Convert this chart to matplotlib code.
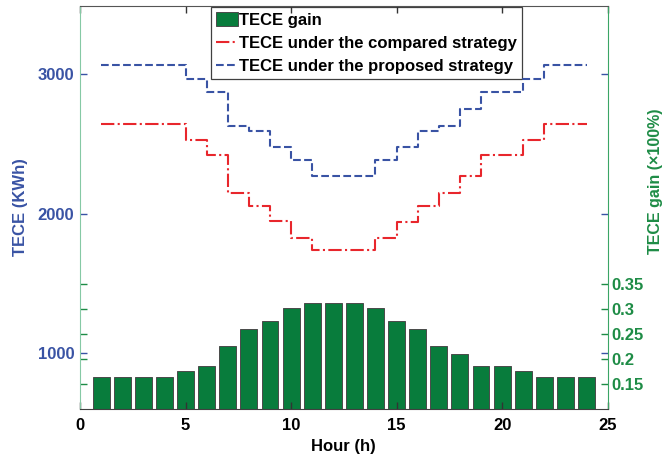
import matplotlib
matplotlib.use("Agg")
import matplotlib.pyplot as plt
import numpy as np


# 数据：24小时的TECE及增益
hours = np.arange(1, 25)
tece_proposed = [3070, 3070, 3070, 3070, 2965, 2870, 2630, 2595, 2480, 2385, 2270, 2270,
                 2270, 2385, 2480, 2595, 2630, 2755, 2870, 2870, 2965, 3070, 3070, 3070]
tece_compared = [2645, 2645, 2645, 2645, 2530, 2420, 2150, 2055, 1950, 1830, 1740, 1740,
                 1740, 1830, 1945, 2055, 2150, 2270, 2420, 2420, 2530, 2645, 2645, 2645]
tece_gain = [0.163, 0.163, 0.163, 0.163, 0.176, 0.185, 0.225, 0.259, 0.276, 0.301, 0.311, 0.311,
             0.311, 0.301, 0.276, 0.259, 0.225, 0.210, 0.185, 0.185, 0.176, 0.163, 0.163, 0.163]

left_ticks = [1000, 2000, 3000]
right_ticks = [0.15, 0.2, 0.25, 0.3, 0.35]
x_ticks = [0, 5, 10, 15, 20, 25]

# 颜色
c_blue = "#3953a4"
c_red = "#e8262c"
c_green = "#1e8c46"
c_bar = "#087c3c"


def draw():
	plt.rcParams['font.family'] = ['Liberation Sans', 'DejaVu Sans']
	plt.rcParams['font.weight'] = 'bold'
	plt.rcParams['font.size'] = 12

	fig = plt.figure(figsize=(6.67, 4.57), dpi=100)
	ax1 = fig.add_axes([0.12, 0.106, 0.791, 0.881])
	ax2 = ax1.twinx()
	# 左轴放在上层，刻度压在图例之上
	ax1.set_zorder(ax2.get_zorder() + 1)
	ax1.patch.set_visible(False)

	# 左轴：TECE阶梯线
	l_cmp, = ax1.step(hours, tece_compared, where='post', color=c_red, ls='-.', lw=1.5,
	                  label='TECE under the compared strategy')
	l_pro, = ax1.step(hours, tece_proposed, where='post', color=c_blue, ls='--', lw=1.5,
	                  label='TECE under the proposed strategy')
	ax1.set_xlim(0, 25)
	ax1.set_ylim(605, 3490)
	ax1.set_xticks(x_ticks)
	ax1.set_yticks(left_ticks)
	ax1.tick_params(axis='y', direction='in', left=True, right=True, length=5, width=1,
	                colors=c_blue, pad=4)
	ax1.tick_params(axis='x', direction='in', bottom=True, top=True, length=5, width=1,
	                colors='#333333', labelcolor='black', pad=7)
	ax1.set_xlabel('Hour (h)', fontweight='bold', labelpad=4)
	ax1.set_ylabel('TECE (KWh)', color=c_blue, fontweight='bold')
	ax1.yaxis.set_label_coords(-0.098, 0.5)
	ax1.spines['left'].set_color('#86c9a5')
	ax1.spines['right'].set_color('#3aa565')
	ax1.spines['top'].set_color('#555555')
	ax1.spines['bottom'].set_color('#404040')

	# 右轴：增益柱状图
	bars = ax2.bar(hours, tece_gain, width=0.8, color=c_bar, edgecolor='#4a4a4a', lw=0.7,
	               label='TECE gain')
	ax2.set_ylim(0.1, 0.905)
	ax2.set_yticks(right_ticks)
	ax2.set_yticklabels(['0.15', '0.2', '0.25', '0.3', '0.35'])
	ax2.tick_params(axis='y', direction='in', left=True, right=True, length=5, width=1,
	                colors=c_green, pad=3)
	ax2.set_ylabel('TECE gain (\u00d7100%)', color=c_green, fontweight='bold', fontsize=11.5)
	ax2.yaxis.set_label_coords(1.077, 0.565)
	for s in ax2.spines.values():
		s.set_visible(False)

	leg = ax1.legend([bars, l_cmp, l_pro],
	                 ['TECE gain', 'TECE under the compared strategy', 'TECE under the proposed strategy'],
	                 loc='upper center', bbox_to_anchor=(0.543, 0.997), borderaxespad=0,
	                 fancybox=False, framealpha=1, edgecolor='#404040', handlelength=1.3,
	                 handleheight=0.9, handletextpad=0.1, borderpad=0.3, labelspacing=0.45,
	                 prop={'weight': 'bold', 'size': 12})
	leg.get_frame().set_linewidth(0.9)
	leg.set_zorder(1.2)

	fig.savefig("out.png", dpi=100)


if __name__ == "__main__":
	draw()
